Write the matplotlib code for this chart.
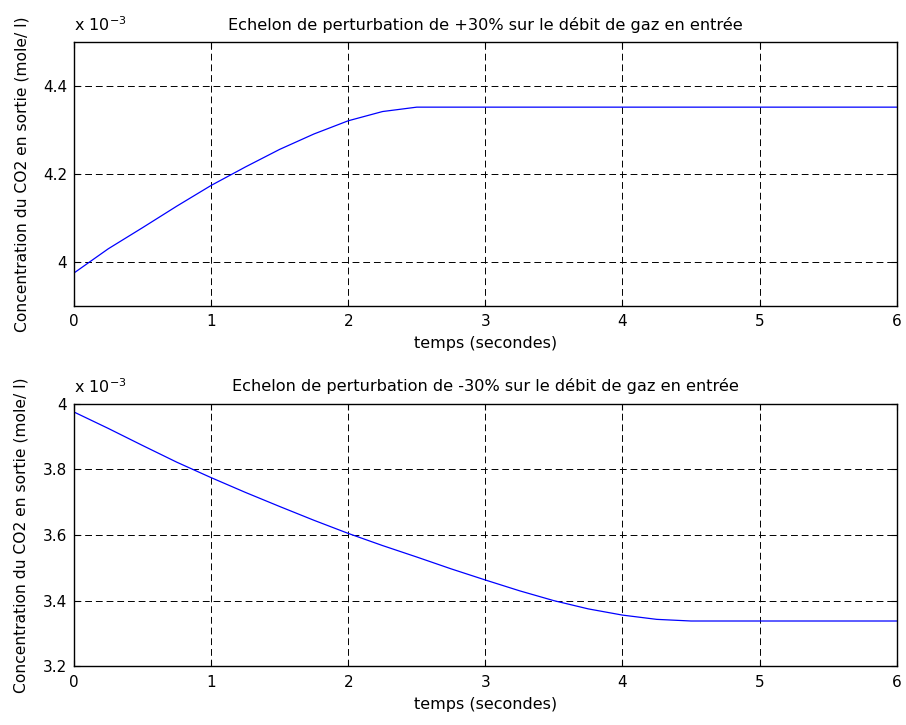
import numpy as np
import matplotlib.pyplot as plt

plt.rcParams['font.family'] = ['DejaVu Sans']

# temps (s) et concentration (x 1e-3 mole/l)
t_plus = [0, 0.25, 0.5, 0.75, 1.0, 1.25, 1.5, 1.75, 2.0, 2.25, 2.5, 6.0]
c_plus = [3.975, 4.03, 4.078, 4.127, 4.174, 4.216, 4.256, 4.291, 4.321, 4.342, 4.352, 4.352]

t_moins = [0, 0.25, 0.5, 0.75, 1.0, 1.25, 1.5, 1.75, 2.0, 2.25, 2.5, 2.75,
           3.0, 3.25, 3.5, 3.75, 4.0, 4.25, 4.5, 6.0]
c_moins = [3.975, 3.925, 3.873, 3.822, 3.775, 3.73, 3.687, 3.645, 3.605, 3.568,
           3.533, 3.497, 3.463, 3.43, 3.40, 3.375, 3.356, 3.343, 3.338, 3.338]

titles = ['Echelon de perturbation de +30% sur le débit de gaz en entrée',
          'Echelon de perturbation de -30% sur le débit de gaz en entrée']
ylabel = 'Concentration du CO2 en sortie (mole/ l)'

fig = plt.figure(figsize=(9.06, 7.25), dpi=100)
ax1 = fig.add_axes([0.0817, 0.578, 0.908, 0.364])
ax2 = fig.add_axes([0.0817, 0.081, 0.908, 0.362])

setups = [
    (ax1, t_plus, c_plus, (3.9, 4.5), [4.0, 4.2, 4.4], ['4', '4.2', '4.4'], titles[0]),
    (ax2, t_moins, c_moins, (3.2, 4.0), [3.2, 3.4, 3.6, 3.8, 4.0],
     ['3.2', '3.4', '3.6', '3.8', '4'], titles[1]),
]

for ax, t, c, ylim, yt, ytl, title in setups:
    ax.plot(t, c, color='#0000ff', lw=0.9)
    ax.set_xlim(0, 6)
    ax.set_ylim(*ylim)
    ax.set_xticks(range(7))
    ax.set_yticks(yt)
    ax.set_yticklabels(ytl)
    ax.grid(True, color='black', linestyle=(0, (7, 4)), linewidth=0.7)
    ax.tick_params(direction='in', length=4, labelsize=11, top=True, right=True)
    ax.tick_params(axis='x', pad=6)
    ax.tick_params(axis='y', pad=5)
    for s in ax.spines.values():
        s.set_linewidth(1.0)
    ax.set_title(title, fontsize=11.6, pad=9)
    ax.set_xlabel('temps (secondes)', fontsize=11.5, labelpad=5)
    ax.set_ylabel(ylabel, fontsize=11.2, labelpad=10)
    ax.text(0.0, 1.03, r'x 10$^{-3}$', transform=ax.transAxes, fontsize=11.5,
            ha='left', va='bottom')

fig.savefig('out.png', dpi=100)
